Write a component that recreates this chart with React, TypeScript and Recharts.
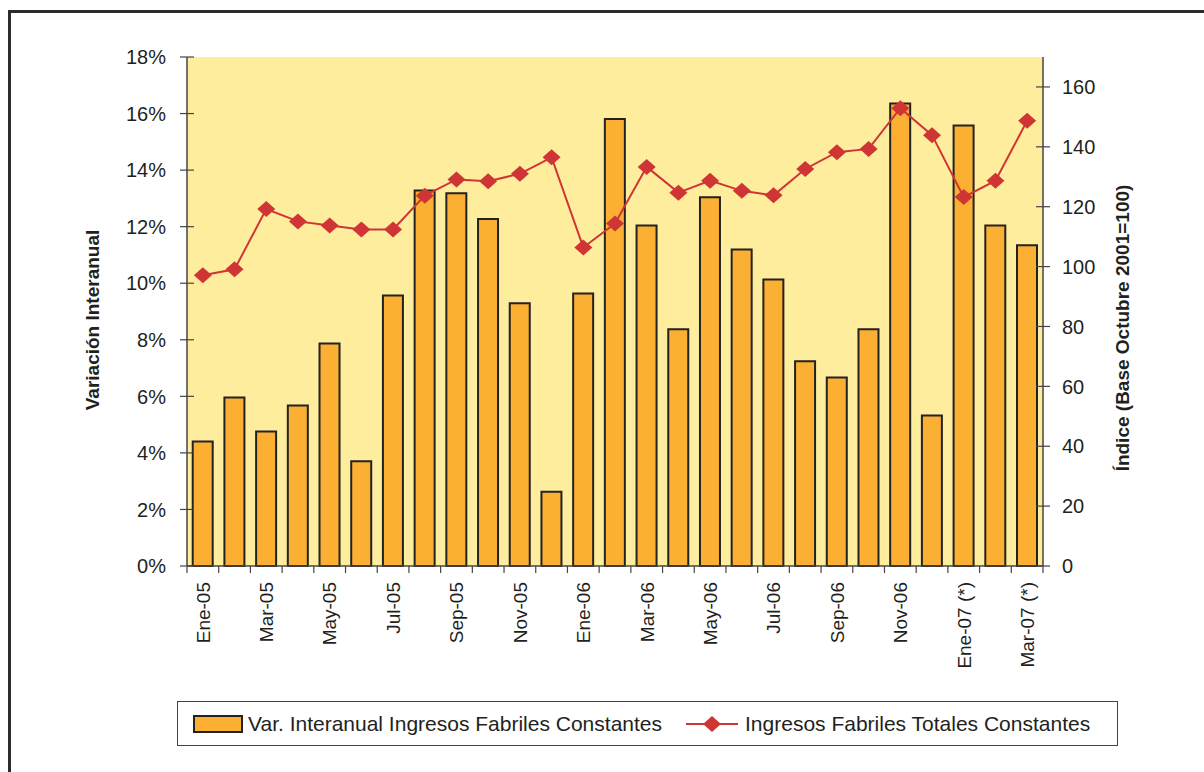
import { ComposedChart, Bar, Line, XAxis, YAxis } from 'recharts'

// ── Data ────────────────────────────────────────────────────────────────────
const months = [
  'Ene-05', 'Feb-05', 'Mar-05', 'Abr-05', 'May-05', 'Jun-05', 'Jul-05', 'Ago-05', 'Sep-05',
  'Oct-05', 'Nov-05', 'Dic-05', 'Ene-06', 'Feb-06', 'Mar-06', 'Abr-06', 'May-06', 'Jun-06',
  'Jul-06', 'Ago-06', 'Sep-06', 'Oct-06', 'Nov-06', 'Dic-06', 'Ene-07 (*)', 'Feb-07 (*)', 'Mar-07 (*)',
]
// Var. interanual (%)
const varInteranual = [
  4.40, 5.96, 4.76, 5.68, 7.87, 3.70, 9.57, 13.28, 13.18, 12.27, 9.29, 2.63, 9.64, 15.81,
  12.04, 8.37, 13.04, 11.19, 10.13, 7.24, 6.67, 8.37, 16.36, 5.32, 15.58, 12.04, 11.34,
]
// Índice (Base Octubre 2001=100)
const indice = [
  97.1, 99.1, 119.2, 115.1, 113.7, 112.4, 112.4, 123.7, 129.1, 128.5, 131.0, 136.5, 106.4, 114.4,
  133.3, 124.7, 128.7, 125.3, 123.8, 132.6, 138.2, 139.3, 152.9, 143.9, 123.2, 128.7, 148.7,
]
const leftTicks = [0, 2, 4, 6, 8, 10, 12, 14, 16, 18]
const rightTicks = [0, 20, 40, 60, 80, 100, 120, 140, 160]

const data = months.map((m, i) => ({ name: m, v: varInteranual[i], idx: indice[i] }))

// ── Layout ──────────────────────────────────────────────────────────────────
const W = 1204
const HGT = 772
const PLOT_L = 187
const PLOT_R = 1043
const PLOT_T = 57
const PLOT_B = 566
const BAND = (PLOT_R - PLOT_L) / months.length
const TICK = 7

const ORANGE = '#fbb033'
const RED = '#d03535'
const INK = '#231f20'
const AXIS = '#444'
const FONT = '"Liberation Sans", Arial, sans-serif'

function XTick(props: any) {
  const { payload, index, y } = props
  const cx = payload.coordinate
  const left = cx - BAND / 2
  return (
    <g>
      <line x1={left} x2={left} y1={y} y2={y + 7} stroke={AXIS} strokeWidth={1.2} />
      {index === months.length - 1 && (
        <line x1={cx + BAND / 2} x2={cx + BAND / 2} y1={y} y2={y + 7} stroke={AXIS} strokeWidth={1.2} />
      )}
      {index % 2 === 0 && (
        <text x={cx} y={y + 16} transform={`rotate(-90 ${cx} ${y + 16})`} textAnchor="end" dy="0.36em"
          fontSize={19} fill={INK} fontFamily={FONT}>
          {payload.value}
        </text>
      )}
    </g>
  )
}

// y-axis tick: label plus a tick mark that crosses the axis line
function YTick(props: any) {
  const { x, y, payload, side, margin, fmt } = props
  const ax = side === 'left' ? x + TICK + margin : x - TICK - margin
  return (
    <g>
      <line x1={ax - TICK} x2={ax + TICK} y1={y} y2={y} stroke={AXIS} strokeWidth={1.2} />
      <text x={x} y={y} dy="0.36em" textAnchor={side === 'left' ? 'end' : 'start'} fontSize={20} fill={INK} fontFamily={FONT}>
        {fmt ? fmt(payload.value) : payload.value}
      </text>
    </g>
  )
}

function Diamond(props: any) {
  const { cx, cy } = props
  if (cx == null || cy == null) return null
  return <polygon points={`${cx - 9},${cy} ${cx},${cy - 8} ${cx + 9},${cy} ${cx},${cy + 8}`} fill={RED} />
}

export default function App() {
  return (
    <div style={{ position: 'absolute', left: 0, top: 0, width: W, height: HGT, overflow: 'hidden', background: '#fff' }}>
      {/* outer frame */}
      <div style={{ position: 'absolute', left: 8, top: 10, width: 1400, height: 1000, border: '3px solid #2b2b2b' }} />
      {/* plot background */}
      <div style={{ position: 'absolute', left: PLOT_L, top: PLOT_T, width: PLOT_R - PLOT_L, height: PLOT_B - PLOT_T, background: '#ffed9e' }} />

      <div style={{ position: 'absolute', left: 0, top: 0 }}>
        <ComposedChart width={W} height={HGT} data={data} barCategoryGap="18%"
          margin={{ top: PLOT_T, right: W - PLOT_R - 80, bottom: HGT - PLOT_B - 120, left: PLOT_L - 80 }}>
          <XAxis dataKey="name" interval={0} height={120} tickLine={false} tickSize={0} tickMargin={0}
            axisLine={{ stroke: AXIS, strokeWidth: 1.5 }} tick={<XTick />} />
          <YAxis yAxisId="l" orientation="left" width={80} domain={[0, 18]} ticks={leftTicks} interval={0}
            axisLine={{ stroke: AXIS, strokeWidth: 1.5 }} tickLine={false} tickSize={TICK} tickMargin={14}
            tick={<YTick side="left" margin={14} fmt={(v: number) => `${v}%`} />} />
          <YAxis yAxisId="r" orientation="right" width={80} domain={[0, 170]} ticks={rightTicks} interval={0}
            axisLine={{ stroke: AXIS, strokeWidth: 1.5 }} tickLine={false} tickSize={TICK} tickMargin={12}
            tick={<YTick side="right" margin={12} />} />
          <Bar yAxisId="l" dataKey="v" fill={ORANGE} stroke="#222" strokeWidth={2} isAnimationActive={false} />
          <Line yAxisId="r" dataKey="idx" type="linear" stroke={RED} strokeWidth={2} dot={<Diamond />}
            activeDot={false} isAnimationActive={false} />
        </ComposedChart>
      </div>

      {/* axis titles */}
      <div style={{ position: 'absolute', left: 93, top: 320, transform: 'translate(-50%, -50%) rotate(-90deg)', whiteSpace: 'nowrap',
        fontFamily: FONT, fontWeight: 700, fontSize: 19, color: INK }}>
        Variación Interanual
      </div>
      <div style={{ position: 'absolute', left: 1123, top: 328, transform: 'translate(-50%, -50%) rotate(-90deg)', whiteSpace: 'nowrap',
        fontFamily: FONT, fontWeight: 700, fontSize: 19, color: INK }}>
        Índice (Base Octubre 2001=100)
      </div>

      {/* legend */}
      <div style={{ position: 'absolute', left: 177, top: 701, width: 939, height: 43, border: '1.5px solid #444', background: '#fff',
        display: 'flex', alignItems: 'center', fontFamily: FONT, fontSize: 21, color: INK, whiteSpace: 'nowrap' }}>
        <div style={{ width: 46, height: 14, marginLeft: 15, background: ORANGE, border: '2px solid #222' }} />
        <span style={{ marginLeft: 5 }}>Var. Interanual Ingresos Fabriles Constantes</span>
        <svg width={56} height={20} style={{ marginLeft: 22 }}>
          <line x1={2} x2={54} y1={10} y2={10} stroke={RED} strokeWidth={2} />
          <polygon points="19,10 28,2 37,10 28,18" fill={RED} />
        </svg>
        <span style={{ marginLeft: 5 }}>Ingresos Fabriles Totales Constantes</span>
      </div>
    </div>
  )
}
